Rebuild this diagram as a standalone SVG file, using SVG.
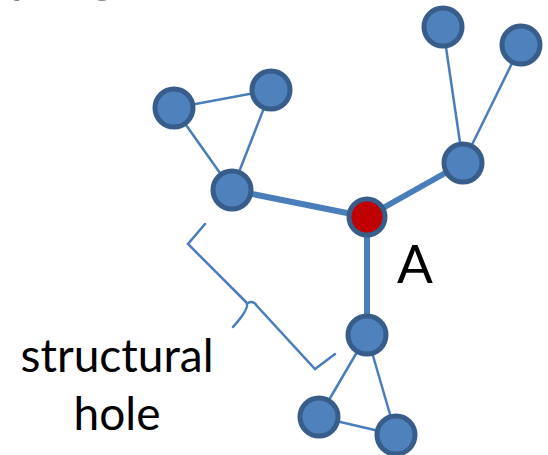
<svg xmlns="http://www.w3.org/2000/svg" width="548" height="455" viewBox="0 0 548 455">
<style>
.thin{stroke:#4A7EBB;stroke-width:2.5;fill:none;stroke-linecap:round}
.thick{stroke:#4A7EBB;stroke-width:6;fill:none}
.node{fill:#4F81BD;stroke:#385D8A;stroke-width:5}
.hub{fill:#C00000;stroke:#385D8A;stroke-width:5}
.txt{font-family:Lato,"Open Sans","Liberation Sans",sans-serif;fill:#000}
</style>
<rect width="548" height="455" fill="#fff"/>
<text class="txt" x="185" y="0" font-size="72" text-anchor="end">Network</text>
<g id="connectors">
<line class="thick" x1="367" y1="217" x2="232" y2="190"/>
<line class="thick" x1="367" y1="217" x2="463" y2="163"/>
<line class="thick" x1="367" y1="217" x2="367" y2="335"/>
<line class="thin" x1="174" y1="108" x2="271" y2="90"/>
<line class="thin" x1="174" y1="108" x2="232" y2="190"/>
<line class="thin" x1="271" y1="90" x2="232" y2="190"/>
<line class="thin" x1="443" y1="27" x2="463" y2="163"/>
<line class="thin" x1="521" y1="45" x2="463" y2="163"/>
<line class="thin" x1="367" y1="335" x2="319" y2="417"/>
<line class="thin" x1="367" y1="335" x2="396" y2="435"/>
<line class="thin" x1="319" y1="417" x2="396" y2="435"/>
</g>
<g id="brace">
<path class="thin" stroke-width="2" d="M205,224 L188,244 L246,302 Q251,307 233,327 M248,303 Q253,300 257,306 L315,369 L335,354"/>
</g>
<g id="node-1"><circle class="node" cx="443" cy="27" r="19"/></g>
<g id="node-2"><circle class="node" cx="521" cy="45" r="19"/></g>
<g id="node-3"><circle class="node" cx="463" cy="163" r="19"/></g>
<g id="node-4"><circle class="node" cx="174" cy="108" r="19"/></g>
<g id="node-5"><circle class="node" cx="271" cy="90" r="19"/></g>
<g id="node-6"><circle class="node" cx="232" cy="190" r="19"/></g>
<g id="node-A"><circle class="hub" cx="367" cy="217" r="18"/></g>
<g id="node-7"><circle class="node" cx="367" cy="335" r="19"/></g>
<g id="node-8"><circle class="node" cx="319" cy="417" r="19"/></g>
<g id="node-9"><circle class="node" cx="396" cy="435" r="19"/></g>
<text class="txt" x="415" y="283" font-size="53" text-anchor="middle">A</text>
<text class="txt" x="117" y="372" font-size="46" text-anchor="middle">structural</text>
<text class="txt" x="117" y="430" font-size="46" text-anchor="middle">hole</text>
</svg>
